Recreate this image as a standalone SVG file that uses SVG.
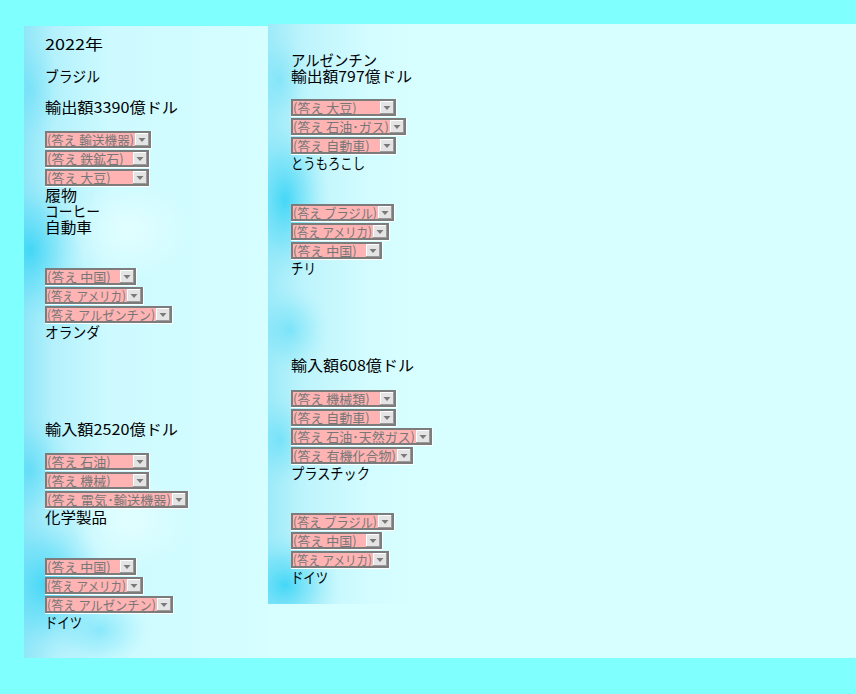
<svg xmlns="http://www.w3.org/2000/svg" width="856" height="694" viewBox="0 0 856 694">
<style>
.t{font-family:"Noto Sans CJK JP","Noto Sans",sans-serif;font-size:15px;fill:#000}
.st{font-family:"Noto Sans CJK JP","Noto Sans",sans-serif;font-size:13px;fill:#777777}
.so{fill:#ffffff}
.sb{fill:#7c7c7c}
.sp{fill:#ffb3b3}
.bd{fill:#9a9a9a}
.bh{fill:#ffffff}
.bf{fill:#e4e4e4}
.tri{fill:#7a7a7a}
</style>
<defs>
<linearGradient id="gL" gradientUnits="userSpaceOnUse" x1="24" y1="0" x2="268" y2="0">
<stop offset="0" stop-color="#8fe6f8"/>
<stop offset="0.12" stop-color="#b4f1fc"/>
<stop offset="0.35" stop-color="#cdfaff"/>
<stop offset="1" stop-color="#d6feff"/>
</linearGradient>
<linearGradient id="gR" gradientUnits="userSpaceOnUse" x1="268" y1="0" x2="856" y2="0">
<stop offset="0" stop-color="#9deaf9"/>
<stop offset="0.06" stop-color="#bdf4fc"/>
<stop offset="0.17" stop-color="#d2fcff"/>
<stop offset="0.25" stop-color="#d8ffff"/>
<stop offset="1" stop-color="#d8ffff"/>
</linearGradient>
<radialGradient id="blob">
<stop offset="0" stop-color="#38d4f6" stop-opacity="0.9"/>
<stop offset="0.5" stop-color="#5cdcf7" stop-opacity="0.5"/>
<stop offset="1" stop-color="#9ceafa" stop-opacity="0"/>
</radialGradient>
<radialGradient id="lite">
<stop offset="0" stop-color="#e4ffff" stop-opacity="0.9"/>
<stop offset="1" stop-color="#e4ffff" stop-opacity="0"/>
</radialGradient>
<clipPath id="cL"><rect x="24" y="26" width="244" height="632"/></clipPath>
<clipPath id="cR"><rect x="268" y="24" width="588" height="580"/></clipPath>
<polygon id="arrow" points="0,0 7,0 3.5,4"/>
</defs>

<g id="background">
<rect x="0" y="0" width="856" height="694" fill="#80ffff"/>
<rect x="24" y="26" width="832" height="632" fill="#d8ffff"/>
<g id="leftPanelBg" clip-path="url(#cL)">
<rect x="24" y="26" width="244" height="632" fill="url(#gL)"/>
<ellipse cx="30" cy="250" rx="55" ry="80" fill="url(#blob)"/>
<ellipse cx="70" cy="300" rx="40" ry="40" fill="url(#blob)" opacity="0.5"/>
<ellipse cx="30" cy="470" rx="45" ry="60" fill="url(#blob)" opacity="0.6"/>
<ellipse cx="45" cy="585" rx="60" ry="80" fill="url(#blob)"/>
<ellipse cx="100" cy="630" rx="50" ry="40" fill="url(#blob)" opacity="0.5"/>
<ellipse cx="30" cy="90" rx="35" ry="60" fill="url(#blob)" opacity="0.35"/>
<ellipse cx="130" cy="230" rx="60" ry="50" fill="url(#lite)"/>
<ellipse cx="130" cy="520" rx="60" ry="50" fill="url(#lite)"/>
</g>
<g id="rightPanelBg" clip-path="url(#cR)">
<rect x="268" y="24" width="588" height="580" fill="url(#gR)"/>
<ellipse cx="285" cy="200" rx="45" ry="85" fill="url(#blob)"/>
<ellipse cx="290" cy="330" rx="40" ry="45" fill="url(#blob)" opacity="0.5"/>
<ellipse cx="280" cy="440" rx="35" ry="50" fill="url(#blob)" opacity="0.5"/>
<ellipse cx="285" cy="585" rx="55" ry="55" fill="url(#blob)"/>
<ellipse cx="280" cy="80" rx="30" ry="50" fill="url(#blob)" opacity="0.35"/>
</g>
</g>

<g id="left-column">
<g id="L-header">
<text class="t" x="45" y="50" textLength="58" lengthAdjust="spacingAndGlyphs">2022年</text>
<text class="t" x="45" y="82" textLength="55" lengthAdjust="spacingAndGlyphs">ブラジル</text>
<text class="t" x="45" y="113" textLength="133" lengthAdjust="spacingAndGlyphs">輸出額3390億ドル</text>
</g>

<g id="L-export-items">
<g transform="translate(45,131)"><rect class="so" width="107" height="18"/><rect class="sb" width="106" height="17"/><rect class="sp" x="2" y="2" width="102" height="13"/><rect class="bd" x="90" y="2" width="14" height="13"/><rect class="bh" x="90" y="2" width="13" height="12"/><rect class="bf" x="91" y="3" width="12" height="11"/><use href="#arrow" class="tri" x="93.5" y="7"/><text class="st" x="2" y="14" textLength="87" lengthAdjust="spacingAndGlyphs">(答え 輸送機器)</text></g>
<g transform="translate(45,150)"><rect class="so" width="105" height="18"/><rect class="sb" width="104" height="17"/><rect class="sp" x="2" y="2" width="100" height="13"/><rect class="bd" x="88" y="2" width="14" height="13"/><rect class="bh" x="88" y="2" width="13" height="12"/><rect class="bf" x="89" y="3" width="12" height="11"/><use href="#arrow" class="tri" x="91.5" y="7"/><text class="st" x="2" y="14">(答え 鉄鉱石)</text></g>
<g transform="translate(45,169)"><rect class="so" width="105" height="18"/><rect class="sb" width="104" height="17"/><rect class="sp" x="2" y="2" width="100" height="13"/><rect class="bd" x="88" y="2" width="14" height="13"/><rect class="bh" x="88" y="2" width="13" height="12"/><rect class="bf" x="89" y="3" width="12" height="11"/><use href="#arrow" class="tri" x="91.5" y="7"/><text class="st" x="2" y="14">(答え 大豆)</text></g>
<text class="t" x="45" y="201" textLength="32" lengthAdjust="spacingAndGlyphs">履物</text>
<text class="t" x="45" y="217" textLength="55" lengthAdjust="spacingAndGlyphs">コーヒー</text>
<text class="t" x="45" y="233" textLength="47" lengthAdjust="spacingAndGlyphs">自動車</text>
</g>

<g id="L-export-partners">
<g transform="translate(45,268)"><rect class="so" width="92" height="18"/><rect class="sb" width="91" height="17"/><rect class="sp" x="2" y="2" width="87" height="13"/><rect class="bd" x="75" y="2" width="14" height="13"/><rect class="bh" x="75" y="2" width="13" height="12"/><rect class="bf" x="76" y="3" width="12" height="11"/><use href="#arrow" class="tri" x="78.5" y="7"/><text class="st" x="2" y="14">(答え 中国)</text></g>
<g transform="translate(45,287)"><rect class="so" width="99" height="18"/><rect class="sb" width="98" height="17"/><rect class="sp" x="2" y="2" width="94" height="13"/><rect class="bd" x="82" y="2" width="14" height="13"/><rect class="bh" x="82" y="2" width="13" height="12"/><rect class="bf" x="83" y="3" width="12" height="11"/><use href="#arrow" class="tri" x="85.5" y="7"/><text class="st" x="2" y="14" textLength="79" lengthAdjust="spacingAndGlyphs">(答え アメリカ)</text></g>
<g transform="translate(45,306)"><rect class="so" width="128" height="18"/><rect class="sb" width="127" height="17"/><rect class="sp" x="2" y="2" width="123" height="13"/><rect class="bd" x="111" y="2" width="14" height="13"/><rect class="bh" x="111" y="2" width="13" height="12"/><rect class="bf" x="112" y="3" width="12" height="11"/><use href="#arrow" class="tri" x="114.5" y="7"/><text class="st" x="2" y="14" textLength="108" lengthAdjust="spacingAndGlyphs">(答え アルゼンチン)</text></g>
<text class="t" x="45" y="338" textLength="55" lengthAdjust="spacingAndGlyphs">オランダ</text>
</g>

<g id="L-import-items">
<text class="t" x="45" y="435" textLength="133" lengthAdjust="spacingAndGlyphs">輸入額2520億ドル</text>
<g transform="translate(45,453)"><rect class="so" width="105" height="18"/><rect class="sb" width="104" height="17"/><rect class="sp" x="2" y="2" width="100" height="13"/><rect class="bd" x="88" y="2" width="14" height="13"/><rect class="bh" x="88" y="2" width="13" height="12"/><rect class="bf" x="89" y="3" width="12" height="11"/><use href="#arrow" class="tri" x="91.5" y="7"/><text class="st" x="2" y="14">(答え 石油)</text></g>
<g transform="translate(45,472)"><rect class="so" width="105" height="18"/><rect class="sb" width="104" height="17"/><rect class="sp" x="2" y="2" width="100" height="13"/><rect class="bd" x="88" y="2" width="14" height="13"/><rect class="bh" x="88" y="2" width="13" height="12"/><rect class="bf" x="89" y="3" width="12" height="11"/><use href="#arrow" class="tri" x="91.5" y="7"/><text class="st" x="2" y="14">(答え 機械)</text></g>
<g transform="translate(45,491)"><rect class="so" width="144" height="18"/><rect class="sb" width="143" height="17"/><rect class="sp" x="2" y="2" width="139" height="13"/><rect class="bd" x="127" y="2" width="14" height="13"/><rect class="bh" x="127" y="2" width="13" height="12"/><rect class="bf" x="128" y="3" width="12" height="11"/><use href="#arrow" class="tri" x="130.5" y="7"/><text class="st" x="2" y="14" textLength="124" lengthAdjust="spacingAndGlyphs">(答え 電気･輸送機器)</text></g>
<text class="t" x="45" y="523" textLength="62" lengthAdjust="spacingAndGlyphs">化学製品</text>
</g>

<g id="L-import-partners">
<g transform="translate(45,558)"><rect class="so" width="92" height="18"/><rect class="sb" width="91" height="17"/><rect class="sp" x="2" y="2" width="87" height="13"/><rect class="bd" x="75" y="2" width="14" height="13"/><rect class="bh" x="75" y="2" width="13" height="12"/><rect class="bf" x="76" y="3" width="12" height="11"/><use href="#arrow" class="tri" x="78.5" y="7"/><text class="st" x="2" y="14">(答え 中国)</text></g>
<g transform="translate(45,577)"><rect class="so" width="99" height="18"/><rect class="sb" width="98" height="17"/><rect class="sp" x="2" y="2" width="94" height="13"/><rect class="bd" x="82" y="2" width="14" height="13"/><rect class="bh" x="82" y="2" width="13" height="12"/><rect class="bf" x="83" y="3" width="12" height="11"/><use href="#arrow" class="tri" x="85.5" y="7"/><text class="st" x="2" y="14" textLength="79" lengthAdjust="spacingAndGlyphs">(答え アメリカ)</text></g>
<g transform="translate(45,596)"><rect class="so" width="129" height="18"/><rect class="sb" width="128" height="17"/><rect class="sp" x="2" y="2" width="124" height="13"/><rect class="bd" x="112" y="2" width="14" height="13"/><rect class="bh" x="112" y="2" width="13" height="12"/><rect class="bf" x="113" y="3" width="12" height="11"/><use href="#arrow" class="tri" x="115.5" y="7"/><text class="st" x="2" y="14" textLength="109" lengthAdjust="spacingAndGlyphs">(答え アルゼンチン)</text></g>
<text class="t" x="45" y="628" textLength="37" lengthAdjust="spacingAndGlyphs">ドイツ</text>
</g>
</g>

<g id="right-column">
<g id="R-header">
<text class="t" x="291" y="66" textLength="86" lengthAdjust="spacingAndGlyphs">アルゼンチン</text>
<text class="t" x="291" y="82" textLength="121" lengthAdjust="spacingAndGlyphs">輸出額797億ドル</text>
</g>

<g id="R-export-items">
<g transform="translate(291,99)"><rect class="so" width="106" height="18"/><rect class="sb" width="105" height="17"/><rect class="sp" x="2" y="2" width="101" height="13"/><rect class="bd" x="89" y="2" width="14" height="13"/><rect class="bh" x="89" y="2" width="13" height="12"/><rect class="bf" x="90" y="3" width="12" height="11"/><use href="#arrow" class="tri" x="92.5" y="7"/><text class="st" x="2" y="14">(答え 大豆)</text></g>
<g transform="translate(291,118)"><rect class="so" width="116" height="18"/><rect class="sb" width="115" height="17"/><rect class="sp" x="2" y="2" width="111" height="13"/><rect class="bd" x="99" y="2" width="14" height="13"/><rect class="bh" x="99" y="2" width="13" height="12"/><rect class="bf" x="100" y="3" width="12" height="11"/><use href="#arrow" class="tri" x="102.5" y="7"/><text class="st" x="2" y="14" textLength="96" lengthAdjust="spacingAndGlyphs">(答え 石油･ガス)</text></g>
<g transform="translate(291,137)"><rect class="so" width="106" height="18"/><rect class="sb" width="105" height="17"/><rect class="sp" x="2" y="2" width="101" height="13"/><rect class="bd" x="89" y="2" width="14" height="13"/><rect class="bh" x="89" y="2" width="13" height="12"/><rect class="bf" x="90" y="3" width="12" height="11"/><use href="#arrow" class="tri" x="92.5" y="7"/><text class="st" x="2" y="14">(答え 自動車)</text></g>
<text class="t" x="291" y="169" textLength="74" lengthAdjust="spacingAndGlyphs">とうもろこし</text>
</g>

<g id="R-export-partners">
<g transform="translate(291,204)"><rect class="so" width="104" height="18"/><rect class="sb" width="103" height="17"/><rect class="sp" x="2" y="2" width="99" height="13"/><rect class="bd" x="87" y="2" width="14" height="13"/><rect class="bh" x="87" y="2" width="13" height="12"/><rect class="bf" x="88" y="3" width="12" height="11"/><use href="#arrow" class="tri" x="90.5" y="7"/><text class="st" x="2" y="14" textLength="84" lengthAdjust="spacingAndGlyphs">(答え ブラジル)</text></g>
<g transform="translate(291,223)"><rect class="so" width="99" height="18"/><rect class="sb" width="98" height="17"/><rect class="sp" x="2" y="2" width="94" height="13"/><rect class="bd" x="82" y="2" width="14" height="13"/><rect class="bh" x="82" y="2" width="13" height="12"/><rect class="bf" x="83" y="3" width="12" height="11"/><use href="#arrow" class="tri" x="85.5" y="7"/><text class="st" x="2" y="14" textLength="79" lengthAdjust="spacingAndGlyphs">(答え アメリカ)</text></g>
<g transform="translate(291,242)"><rect class="so" width="92" height="18"/><rect class="sb" width="91" height="17"/><rect class="sp" x="2" y="2" width="87" height="13"/><rect class="bd" x="75" y="2" width="14" height="13"/><rect class="bh" x="75" y="2" width="13" height="12"/><rect class="bf" x="76" y="3" width="12" height="11"/><use href="#arrow" class="tri" x="78.5" y="7"/><text class="st" x="2" y="14">(答え 中国)</text></g>
<text class="t" x="291" y="274" textLength="25" lengthAdjust="spacingAndGlyphs">チリ</text>
</g>

<g id="R-import-items">
<text class="t" x="291" y="371" textLength="123" lengthAdjust="spacingAndGlyphs">輸入額608億ドル</text>
<g transform="translate(291,390)"><rect class="so" width="106" height="18"/><rect class="sb" width="105" height="17"/><rect class="sp" x="2" y="2" width="101" height="13"/><rect class="bd" x="89" y="2" width="14" height="13"/><rect class="bh" x="89" y="2" width="13" height="12"/><rect class="bf" x="90" y="3" width="12" height="11"/><use href="#arrow" class="tri" x="92.5" y="7"/><text class="st" x="2" y="14">(答え 機械類)</text></g>
<g transform="translate(291,409)"><rect class="so" width="106" height="18"/><rect class="sb" width="105" height="17"/><rect class="sp" x="2" y="2" width="101" height="13"/><rect class="bd" x="89" y="2" width="14" height="13"/><rect class="bh" x="89" y="2" width="13" height="12"/><rect class="bf" x="90" y="3" width="12" height="11"/><use href="#arrow" class="tri" x="92.5" y="7"/><text class="st" x="2" y="14">(答え 自動車)</text></g>
<g transform="translate(291,428)"><rect class="so" width="142" height="18"/><rect class="sb" width="141" height="17"/><rect class="sp" x="2" y="2" width="137" height="13"/><rect class="bd" x="125" y="2" width="14" height="13"/><rect class="bh" x="125" y="2" width="13" height="12"/><rect class="bf" x="126" y="3" width="12" height="11"/><use href="#arrow" class="tri" x="128.5" y="7"/><text class="st" x="2" y="14" textLength="122" lengthAdjust="spacingAndGlyphs">(答え 石油･天然ガス)</text></g>
<g transform="translate(291,447)"><rect class="so" width="123" height="18"/><rect class="sb" width="122" height="17"/><rect class="sp" x="2" y="2" width="118" height="13"/><rect class="bd" x="106" y="2" width="14" height="13"/><rect class="bh" x="106" y="2" width="13" height="12"/><rect class="bf" x="107" y="3" width="12" height="11"/><use href="#arrow" class="tri" x="109.5" y="7"/><text class="st" x="2" y="14" textLength="103" lengthAdjust="spacingAndGlyphs">(答え 有機化合物)</text></g>
<text class="t" x="291" y="479" textLength="79" lengthAdjust="spacingAndGlyphs">プラスチック</text>
</g>

<g id="R-import-partners">
<g transform="translate(291,513)"><rect class="so" width="104" height="18"/><rect class="sb" width="103" height="17"/><rect class="sp" x="2" y="2" width="99" height="13"/><rect class="bd" x="87" y="2" width="14" height="13"/><rect class="bh" x="87" y="2" width="13" height="12"/><rect class="bf" x="88" y="3" width="12" height="11"/><use href="#arrow" class="tri" x="90.5" y="7"/><text class="st" x="2" y="14" textLength="84" lengthAdjust="spacingAndGlyphs">(答え ブラジル)</text></g>
<g transform="translate(291,532)"><rect class="so" width="92" height="18"/><rect class="sb" width="91" height="17"/><rect class="sp" x="2" y="2" width="87" height="13"/><rect class="bd" x="75" y="2" width="14" height="13"/><rect class="bh" x="75" y="2" width="13" height="12"/><rect class="bf" x="76" y="3" width="12" height="11"/><use href="#arrow" class="tri" x="78.5" y="7"/><text class="st" x="2" y="14">(答え 中国)</text></g>
<g transform="translate(291,551)"><rect class="so" width="99" height="18"/><rect class="sb" width="98" height="17"/><rect class="sp" x="2" y="2" width="94" height="13"/><rect class="bd" x="82" y="2" width="14" height="13"/><rect class="bh" x="82" y="2" width="13" height="12"/><rect class="bf" x="83" y="3" width="12" height="11"/><use href="#arrow" class="tri" x="85.5" y="7"/><text class="st" x="2" y="14" textLength="79" lengthAdjust="spacingAndGlyphs">(答え アメリカ)</text></g>
<text class="t" x="291" y="583" textLength="37" lengthAdjust="spacingAndGlyphs">ドイツ</text>
</g>
</g>
</svg>
